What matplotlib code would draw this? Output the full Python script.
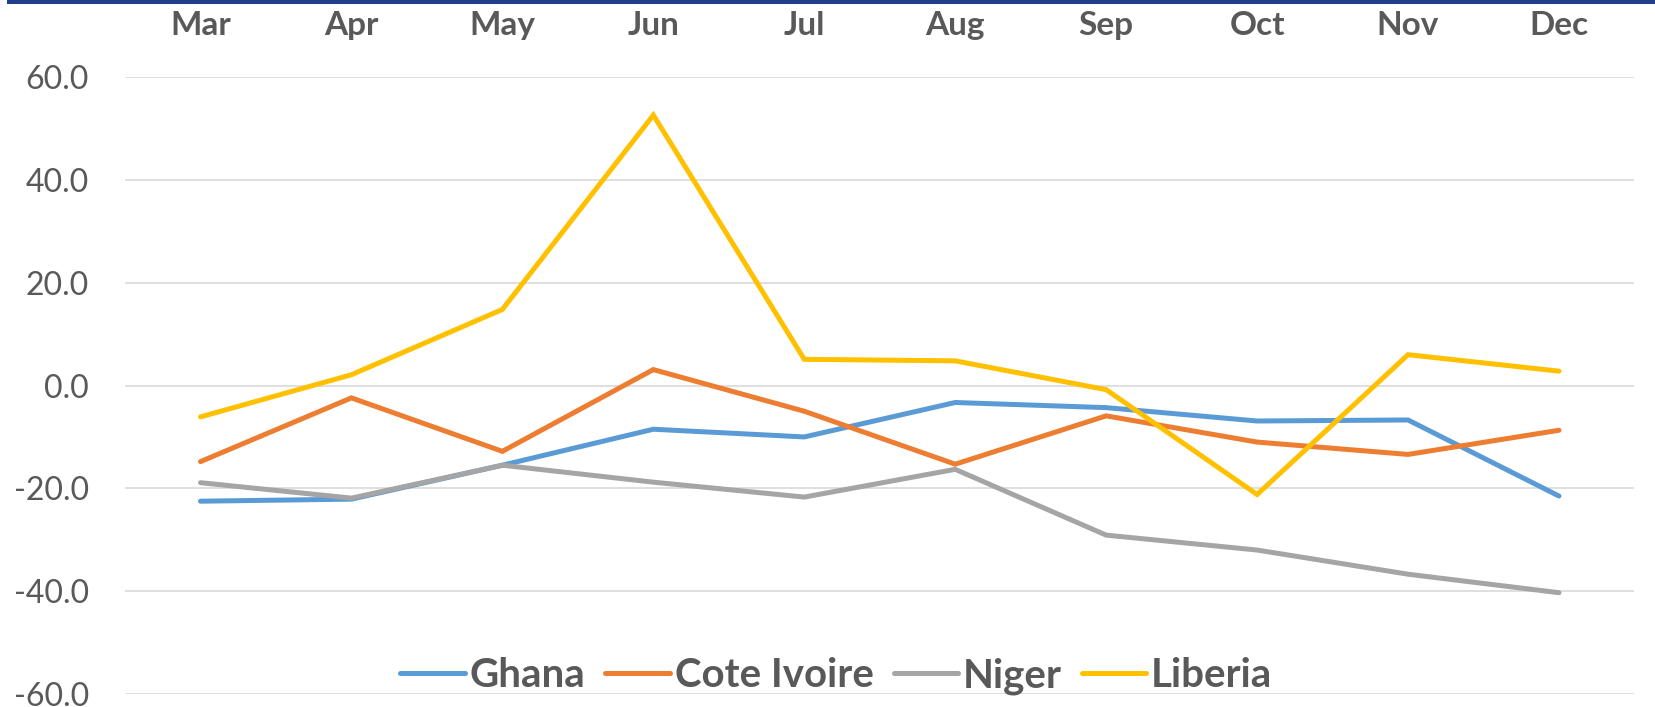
import matplotlib
matplotlib.use('Agg')
import matplotlib.pyplot as plt
from matplotlib.patches import Rectangle

months = ['Mar', 'Apr', 'May', 'Jun', 'Jul', 'Aug', 'Sep', 'Oct', 'Nov', 'Dec']
ghana = [-22.5, -22.1, -15.5, -8.5, -10.0, -3.3, -4.3, -6.9, -6.7, -21.5]
cote_ivoire = [-14.8, -2.4, -12.8, 3.1, -5.0, -15.3, -5.9, -11.0, -13.4, -8.7]
niger = [-18.9, -21.9, -15.5, -18.8, -21.7, -16.3, -29.1, -32.0, -36.7, -40.3]
liberia = [-6.1, 2.1, 14.8, 52.6, 5.1, 4.8, -0.8, -21.2, 6.0, 2.8]
yticks = [60, 40, 20, 0, -20, -40, -60]

series = [('Ghana', ghana, '#5B9BD5'),
          ('Cote Ivoire', cote_ivoire, '#ED7D31'),
          ('Niger', niger, '#A5A5A5'),
          ('Liberia', liberia, '#FFC000')]

plt.rcParams['font.family'] = ['Lato', 'DejaVu Sans']
txt = '#595959'

fig = plt.figure(figsize=(16.56, 7.07), dpi=100)
ax = fig.add_axes([0.0755, 0.0184, 0.9115, 0.8726])

x = list(range(len(months)))
for name, vals, col in series:
    ax.plot(x, vals, color=col, lw=3.6, label=name, solid_capstyle='round', solid_joinstyle='miter')

ax.set_xlim(-0.5, len(months) - 0.5)
ax.set_ylim(-60, 60)
ax.set_yticks(yticks)
ax.set_yticklabels([f'{v:.1f}' for v in yticks], fontsize=23, color=txt)
ax.set_xticks(x)
ax.set_xticklabels(months, fontsize=24, fontweight='bold', color=txt)
ax.xaxis.tick_top()
ax.tick_params(axis='x', length=0, pad=27)
ax.tick_params(axis='y', length=0, pad=26)
ax.grid(axis='y', color='#D9D9D9', lw=1.2)
ax.set_axisbelow(True)
for s in ax.spines.values():
    s.set_visible(False)

leg = fig.legend(loc='center', bbox_to_anchor=(0.505, 0.044), ncol=4, frameon=False,
                 prop={'size': 29, 'weight': 'bold'}, handlelength=1.6, handletextpad=0.12,
                 columnspacing=0.5)
for t in leg.get_texts():
    t.set_color(txt)
for h in leg.legend_handles:
    h.set_linewidth(3.6)

# dark band along the top edge
fig.add_artist(Rectangle((0.004, 0.994), 0.996, 0.006, transform=fig.transFigure,
                         color='#1F3F8A', lw=0))

fig.savefig('out.png', dpi=100)
